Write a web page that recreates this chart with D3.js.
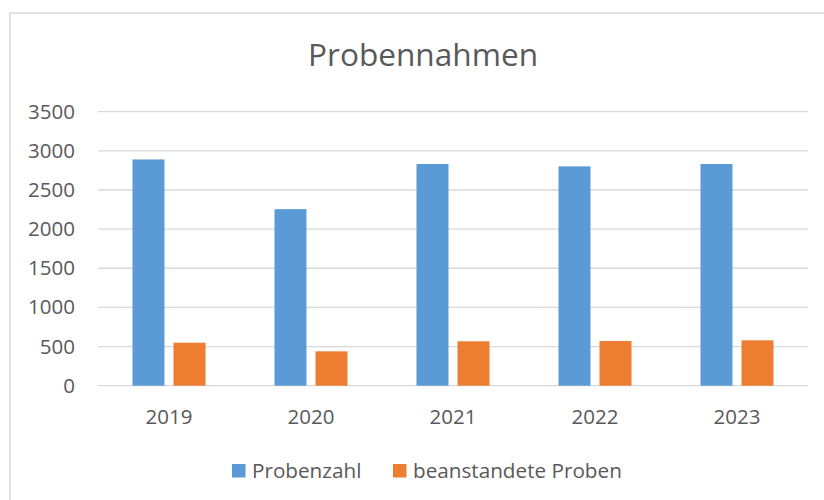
<!DOCTYPE html>
<html>
<head>
<meta charset="utf-8">
<script src="https://cdn.jsdelivr.net/npm/d3@7"></script>
<style>
  html, body { margin: 0; padding: 0; background: #fff; }
  svg { display: block; font-family: "Open Sans", sans-serif; }
</style>
</head>
<body>
<svg id="chart"></svg>
<script>
// chart data
const years = ['2019', '2020', '2021', '2022', '2023'];
const seriesNames = ['Probenzahl', 'beanstandete Proben'];
const probenzahl = [2890, 2255, 2832, 2802, 2832];
const beanstandet = [549, 439, 567, 571, 580];
const yTicks = [0, 500, 1000, 1500, 2000, 2500, 3000, 3500];

const colors = ['#5B9BD5', '#ED7D31'];
const textColor = '#595959';

const width = 824, height = 500;
const svg = d3.select('#chart').attr('width', width).attr('height', height);

// outer chart frame (extends past the visible area)
svg.append('rect')
    .attr('x', 10).attr('y', 13)
    .attr('width', 900).attr('height', 600)
    .attr('fill', '#fff')
    .attr('stroke', '#d9d9d9')
    .attr('stroke-width', 1.5);

const plot = { left: 98, right: 808, top: 111.7, bottom: 385.7 };

const x0 = d3.scaleBand()
    .domain(years)
    .range([plot.left, plot.right])
    .padding(0);

const groupW = 73;
const x1 = d3.scaleBand()
    .domain(seriesNames)
    .range([x0.bandwidth() / 2 - groupW / 2, x0.bandwidth() / 2 + groupW / 2])
    .paddingInner(0.22);

const y = d3.scaleLinear()
    .domain([0, 3500])
    .range([plot.bottom, plot.top]);

// gridlines
svg.append('g')
    .selectAll('line')
    .data(yTicks)
    .enter().append('line')
    .attr('x1', plot.left).attr('x2', plot.right)
    .attr('y1', d => y(d)).attr('y2', d => y(d))
    .attr('stroke', '#d9d9d9')
    .attr('stroke-width', 1.3);

// y axis labels
const yAxis = d3.axisLeft(y).tickValues(yTicks).tickFormat(d3.format('d')).tickSize(0).tickPadding(0);
const gy = svg.append('g')
    .attr('transform', `translate(75,0)`)
    .call(yAxis);
gy.select('.domain').remove();
gy.selectAll('text')
    .attr('fill', textColor)
    .style('font-size', '20.5px')
    .style('font-family', '"Open Sans", sans-serif');

// x axis labels
const xAxis = d3.axisBottom(x0).tickSize(0).tickPadding(0);
const gx = svg.append('g')
    .attr('transform', `translate(0,${plot.bottom + 24})`)
    .call(xAxis);
gx.select('.domain').remove();
gx.selectAll('text')
    .attr('fill', textColor)
    .style('font-size', '20.5px')
    .style('font-family', '"Open Sans", sans-serif');

// bars
const rows = years.map((yr, i) => ({ year: yr, values: [probenzahl[i], beanstandet[i]] }));

const groups = svg.append('g')
    .selectAll('g')
    .data(rows)
    .enter().append('g')
    .attr('transform', d => `translate(${x0(d.year)},0)`);

groups.selectAll('rect')
    .data(d => d.values.map((v, k) => ({ key: seriesNames[k], value: v, color: colors[k] })))
    .enter().append('rect')
    .attr('x', d => x1(d.key))
    .attr('width', x1.bandwidth())
    .attr('y', d => y(d.value))
    .attr('height', d => y(0) - y(d.value))
    .attr('fill', d => d.color);

// title
svg.append('text')
    .attr('x', 423).attr('y', 66)
    .attr('text-anchor', 'middle')
    .attr('fill', textColor)
    .style('font-size', '31.6px')
    .text('Probennahmen');

// legend
const legendX = [232, 393];
const legend = svg.append('g')
    .selectAll('g')
    .data(seriesNames)
    .enter().append('g')
    .attr('transform', (d, i) => `translate(${legendX[i]},464)`);

legend.append('rect')
    .attr('width', 13.5).attr('height', 13.5)
    .attr('fill', (d, i) => colors[i]);

legend.append('text')
    .attr('x', 20).attr('y', 14)
    .attr('fill', textColor)
    .style('font-size', '20.7px')
    .text(d => d);
</script>
</body>
</html>
